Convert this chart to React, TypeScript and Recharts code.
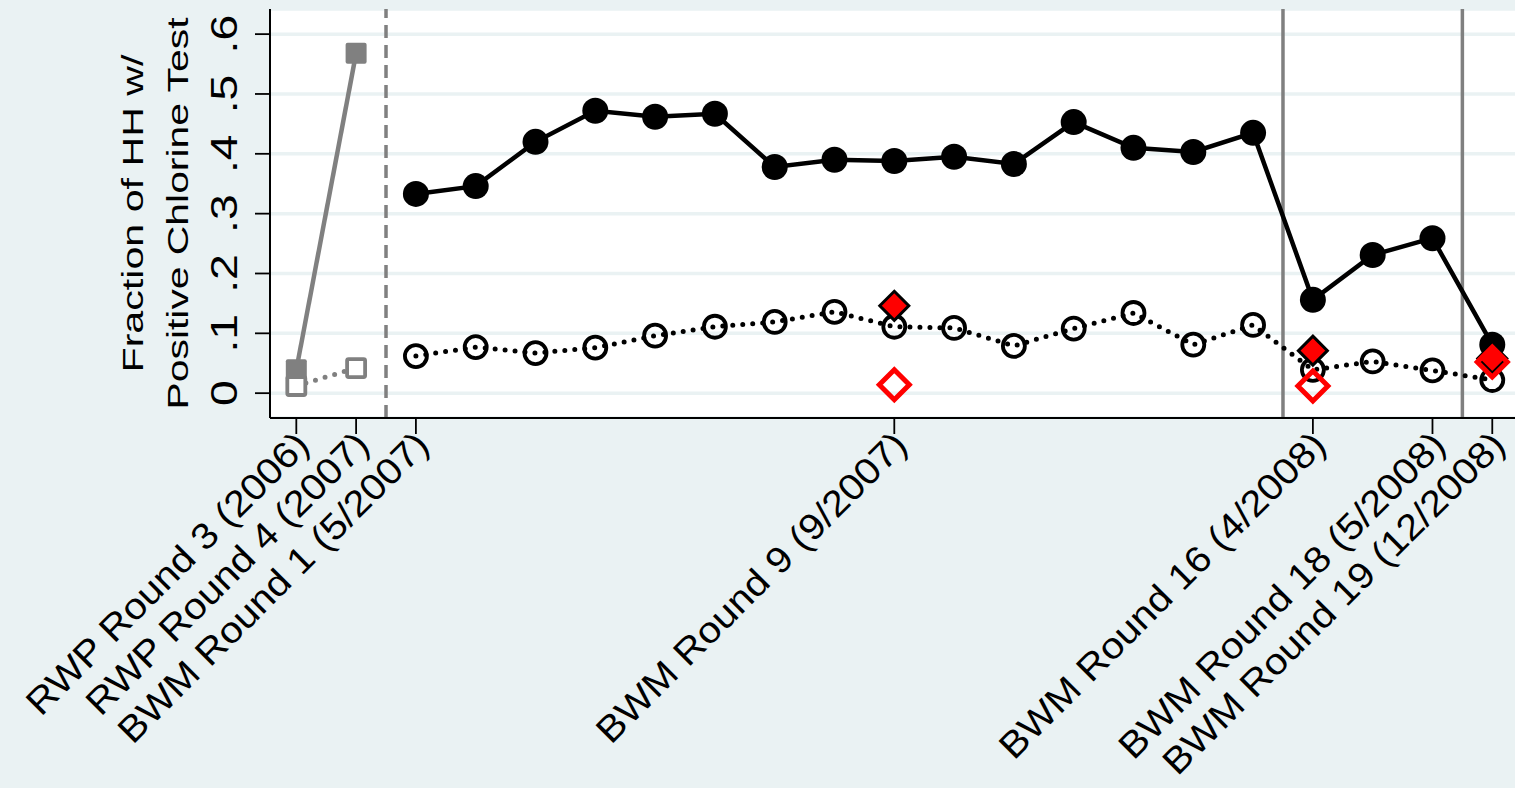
import React from 'react';
import { ComposedChart, Line, XAxis, YAxis, CartesianGrid, ReferenceLine, Label } from 'recharts';

const FONT = '"Liberation Sans", Arial, Helvetica, sans-serif';
const GRAY = '#808080';
const RED = '#FF0000';
const BG = '#EAF2F3';

// RWP survey rounds are placed at -1 and 0, left of the BWM rounds 1..19
const rwpPositions = [-1, 0];
const rwpFilled = [0.039, 0.568];
const rwpHollow = [0.012, 0.042];

const bwmRounds = [1, 2, 3, 4, 5, 6, 7, 8, 9, 10, 11, 12, 13, 14, 15, 16, 17, 18, 19];
const bwmFilled = [0.333, 0.346, 0.42, 0.472, 0.462, 0.467, 0.378, 0.39, 0.388, 0.395, 0.383, 0.453, 0.41, 0.403, 0.435, 0.156, 0.231, 0.259, 0.081];
const bwmHollow = [0.062, 0.077, 0.067, 0.076, 0.096, 0.111, 0.119, 0.136, 0.111, 0.109, 0.079, 0.108, 0.134, 0.081, 0.114, 0.039, 0.053, 0.038, 0.022];

const diamondRounds = [9, 16, 19];
const diamondFilled = [0.146, 0.071, 0.058];
const diamondHollow = [0.014, 0.012, 0.052];

const xTickPositions = [-1, 0, 1, 9, 16, 18, 19];
const xTickLabels = [
  'RWP Round 3 (2006)',
  'RWP Round 4 (2007)',
  'BWM Round 1 (5/2007)',
  'BWM Round 9 (9/2007)',
  'BWM Round 16 (4/2008)',
  'BWM Round 18 (5/2008)',
  'BWM Round 19 (12/2008)',
];
const yTicks = [0, 0.1, 0.2, 0.3, 0.4, 0.5, 0.6];
const yTickLabels = ['0', '.1', '.2', '.3', '.4', '.5', '.6'];

const dashedDividers = [0.5];
const solidDividers = [15.5, 18.5];

const zip = (xs: number[], ys: number[]) => xs.map((x, i) => ({ x, y: ys[i] }));

const rwpFilledData = zip(rwpPositions, rwpFilled);
const rwpHollowData = zip(rwpPositions, rwpHollow);
const bwmFilledData = zip(bwmRounds, bwmFilled);
const bwmHollowData = zip(bwmRounds, bwmHollow);
const diamondFilledData = zip(diamondRounds, diamondFilled);
const diamondHollowData = zip(diamondRounds, diamondHollow);

const filledCircle = (p: any) => (
  <circle key={`fc-${p.index}`} cx={p.cx} cy={p.cy} r={13} fill="#000" />
);
const hollowCircle = (p: any) => (
  <circle key={`hc-${p.index}`} cx={p.cx} cy={p.cy} r={11} fill="none" stroke="#000" strokeWidth={3.8} />
);
const filledSquare = (p: any) => (
  <rect key={`fs-${p.index}`} x={p.cx - 10.5} y={p.cy - 10.5} width={21} height={21} rx={2} fill={GRAY} />
);
const hollowSquare = (p: any) => (
  <rect key={`hs-${p.index}`} x={p.cx - 9} y={p.cy - 9} width={18} height={18} rx={1.5} fill="#fff" stroke={GRAY} strokeWidth={3.8} />
);
const diamondPoints = (cx: number, cy: number, h: number) =>
  `${cx},${cy - h} ${cx + h},${cy} ${cx},${cy + h} ${cx - h},${cy}`;
const filledDiamond = (p: any) => (
  <polygon key={`fd-${p.index}`} points={diamondPoints(p.cx, p.cy, 14.5)} fill={RED} stroke="#000" strokeWidth={3} strokeLinejoin="miter" />
);
const hollowDiamond = (p: any) => (
  <polygon key={`hd-${p.index}`} points={diamondPoints(p.cx, p.cy, 15)} fill="none" stroke={RED} strokeWidth={5} strokeLinejoin="miter" />
);

const XTick = (props: any) => {
  const { x, y, payload } = props;
  const i = xTickPositions.indexOf(payload.value);
  return (
    <text
      transform={`translate(${x + 15},${y + 11}) rotate(-45) scale(1.1,1)`}
      textAnchor="end"
      fontSize={36.5}
      fontFamily={FONT}
      fill="#000"
    >
      {xTickLabels[i]}
    </text>
  );
};

const YTick = (props: any) => {
  const { x, y, payload } = props;
  const i = yTicks.findIndex((t) => Math.abs(t - payload.value) < 1e-9);
  return (
    <text
      transform={`translate(${x - 16},${y}) rotate(-90) scale(1.25,1)`}
      textAnchor="middle"
      fontSize={37}
      fontFamily={FONT}
      fill="#000"
    >
      {yTickLabels[i]}
    </text>
  );
};

const YTitle = (props: any) => {
  const vb = props.viewBox || { x: 0, y: 9, width: 270, height: 409 };
  const cy = vb.y + vb.height / 2;
  return (
    <g>
      <text
        transform={`translate(143,${cy}) rotate(-90)`}
        textAnchor="middle"
        fontSize={30}
        fontFamily={FONT}
        fill="#000"
        textLength={318}
        lengthAdjust="spacingAndGlyphs"
      >
        Fraction of HH w/
      </text>
      <text
        transform={`translate(188,${cy}) rotate(-90)`}
        textAnchor="middle"
        fontSize={30}
        fontFamily={FONT}
        fill="#000"
        textLength={392}
        lengthAdjust="spacingAndGlyphs"
      >
        Positive Chlorine Test
      </text>
    </g>
  );
};

export default function App() {
  return (
    <div style={{ position: 'absolute', left: 0, top: 0, width: 1515, height: 788, background: BG, overflow: 'hidden' }}>
      <ComposedChart width={1515} height={788} margin={{ top: 9, right: 0, bottom: 0, left: 0 }}>
        <CartesianGrid vertical={false} stroke={BG} strokeWidth={3.5} fill="#FFFFFF" />
        <XAxis
          type="number"
          dataKey="x"
          domain={[-1.44, 19.38]}
          ticks={xTickPositions}
          allowDataOverflow
          height={370}
          tickSize={16}
          tick={<XTick />}
          axisLine={{ stroke: '#000', strokeWidth: 2 }}
          tickLine={{ stroke: '#000', strokeWidth: 1.8 }}
          interval={0}
        />
        <YAxis
          type="number"
          dataKey="y"
          domain={[-0.0415, 0.642]}
          ticks={yTicks}
          allowDataOverflow
          width={270}
          tickSize={15}
          tick={<YTick />}
          axisLine={{ stroke: '#000', strokeWidth: 2 }}
          tickLine={{ stroke: '#000', strokeWidth: 1.8 }}
          interval={0}
        >
          <Label content={<YTitle />} />
        </YAxis>

        {dashedDividers.map((v) => (
          <ReferenceLine key={`dd-${v}`} x={v} stroke={GRAY} strokeWidth={3.5} strokeDasharray="13 7" />
        ))}
        {solidDividers.map((v) => (
          <ReferenceLine key={`sd-${v}`} x={v} stroke={GRAY} strokeWidth={3.5} />
        ))}

        <Line data={rwpFilledData} dataKey="y" stroke={GRAY} strokeWidth={4.5} dot={filledSquare} isAnimationActive={false} />
        <Line data={rwpHollowData} dataKey="y" stroke="none" dot={hollowSquare} isAnimationActive={false} />
        <Line data={rwpHollowData} dataKey="y" stroke={GRAY} strokeWidth={5} strokeDasharray="0 10" strokeLinecap="round" dot={false} isAnimationActive={false} />

        <Line data={bwmFilledData} dataKey="y" stroke="#000" strokeWidth={4.5} dot={filledCircle} isAnimationActive={false} />
        <Line data={bwmHollowData} dataKey="y" stroke="#000" strokeWidth={5} strokeDasharray="0 10" strokeLinecap="round" dot={hollowCircle} isAnimationActive={false} />

        <Line data={diamondFilledData} dataKey="y" stroke="none" dot={filledDiamond} isAnimationActive={false} />
        <Line data={diamondHollowData} dataKey="y" stroke="none" dot={hollowDiamond} isAnimationActive={false} />
      </ComposedChart>
    </div>
  );
}
